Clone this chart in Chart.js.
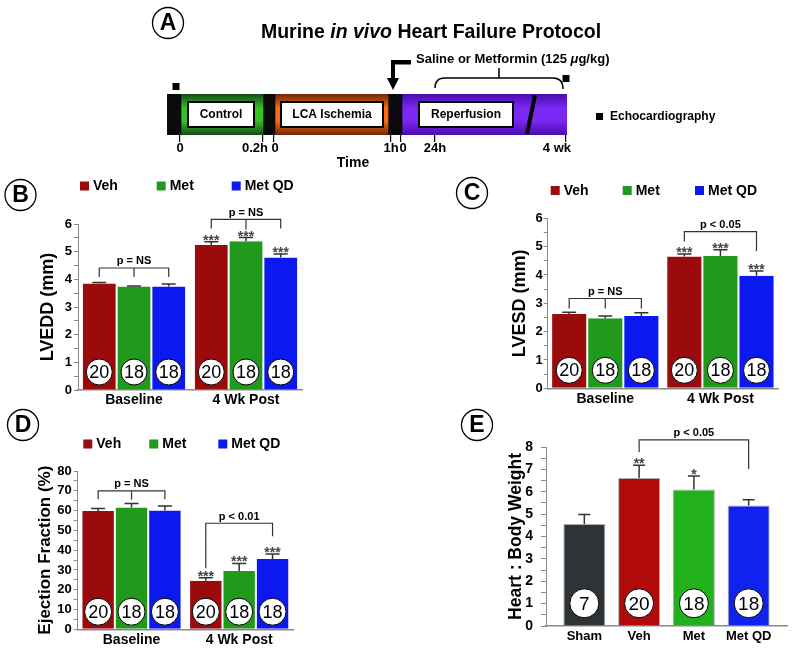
<!DOCTYPE html>
<html>
<head>
<meta charset="utf-8">
<script src="https://cdn.jsdelivr.net/npm/chart.js@4.4.1/dist/chart.umd.min.js"></script>
<style>
  body { margin: 0; background: #fff; }
  #figure { position: relative; width: 800px; height: 652px; overflow: hidden; }
  canvas { position: absolute; }
</style>
</head>
<body>
<div id="figure">
  <canvas id="panelA" width="800" height="170" style="left:0;top:0;width:800px;height:170px"></canvas>
  <canvas id="panelB" width="400" height="245" style="left:0;top:168px;width:400px;height:245px"></canvas>
  <canvas id="panelC" width="400" height="245" style="left:400px;top:168px;width:400px;height:245px"></canvas>
  <canvas id="panelD" width="400" height="252" style="left:0;top:400px;width:400px;height:252px"></canvas>
  <canvas id="panelE" width="400" height="252" style="left:400px;top:400px;width:400px;height:252px"></canvas>
</div>
<script>
const FONT = "'Liberation Sans', Arial, Helvetica, sans-serif";
Chart.defaults.font.family = FONT;
Chart.defaults.color = '#000';
Chart.defaults.animation = false;
Chart.defaults.events = [];
Chart.defaults.plugins.legend.display = false;
Chart.defaults.plugins.tooltip.enabled = false;

// ---- panel A: protocol timeline, in schematic units 0..400 ----
const stageSpans = [[0, 14], [14, 96], [96, 108], [108, 221], [221, 235], [235, 400]];
const stageKinds = ['black', 'green', 'black', 'orange', 'black', 'purple'];
const stageBoxes = [[21, 87, 'Control'], [114, 216, 'LCA Ischemia'], [252, 346, 'Reperfusion']];
const timeTicks = [13, 96, 107, 224, 234, 268, 399];
const timeTickLabels = ['0', '0.2h', '0', '1h', '0', '24h', '4 wk'];
const echoTimes = [9, 399];
const treatmentAt = 226;
const treatmentSpan = [268, 396];

// ---- panels B-D: groups x timepoints ----
const groups = ['Veh', 'Met', 'Met QD'];
const timepoints = ['Baseline', '4 Wk Post'];
const groupN = [20, 18, 18];
const changeStars = ['', '***'];

const lveddVeh = [3.85, 5.24];
const lveddMet = [3.74, 5.38];
const lveddMetQD = [3.74, 4.79];
const lveddErr = [[0.04, 0.12], [0.02, 0.13], [0.09, 0.13]];

const lvesdVeh = [2.62, 4.65];
const lvesdMet = [2.47, 4.67];
const lvesdMetQD = [2.55, 3.97];
const lvesdErr = [[0.06, 0.09], [0.08, 0.22], [0.12, 0.17]];

const efVeh = [59.8, 24.5];
const efMet = [61.6, 29.5];
const efMetQD = [60.1, 35.5];
const efErr = [[1.3, 1.6], [2.0, 3.8], [2.2, 2.5]];

// ---- panel E ----
const hwGroups = ['Sham', 'Veh', 'Met', 'Met QD'];
const hwRatio = [4.56, 6.61, 6.10, 5.38];
const hwErr = [0.42, 0.57, 0.60, 0.26];
const hwN = [7, 20, 18, 18];
const hwStars = ['', '**', '*', ''];

const groupColors = ['#9b0b0b', '#21991d', '#0c18f0'];
const hwColors = ['#2e3436', '#b10a0a', '#22b11c', '#0f22ee'];

function stageFill(chart, kind) {
  const area = chart.chartArea;
  const stops = {
    green: ['#17491a', '#36c227'],
    orange: ['#6e2806', '#ff6a14'],
    purple: ['#4a0cb0', '#7a28f2'],
  }[kind];
  if (!stops) return '#0b0b0b';
  if (!area) return stops[1];
  const g = chart.ctx.createLinearGradient(0, area.top, 0, area.bottom);
  g.addColorStop(0, stops[0]);
  g.addColorStop(0.35, stops[1]);
  g.addColorStop(0.65, stops[1]);
  g.addColorStop(1, stops[0]);
  return g;
}

function letterCircle(ctx, letter, x, y) {
  ctx.save();
  ctx.beginPath();
  ctx.arc(x, y, 15.5, 0, Math.PI * 2);
  ctx.fillStyle = '#fff';
  ctx.fill();
  ctx.lineWidth = 1.3;
  ctx.strokeStyle = '#000';
  ctx.stroke();
  ctx.fillStyle = '#000';
  ctx.font = `bold 23px ${FONT}`;
  ctx.textAlign = 'center';
  ctx.textBaseline = 'middle';
  ctx.fillText(letter, x, y + 1);
  ctx.restore();
}

const protocolOverlay = {
  id: 'protocolOverlay',
  afterDraw(chart) {
    const { ctx, chartArea: area, scales: { x } } = chart;
    const px = (v) => x.getPixelForValue(v);
    ctx.save();

    // break in the reperfusion period
    ctx.strokeStyle = '#000';
    ctx.lineWidth = 4;
    ctx.beginPath();
    ctx.moveTo(px(360), area.bottom - 1);
    ctx.lineTo(px(368), area.top + 1);
    ctx.stroke();

    // stage name boxes
    ctx.font = `bold 12px ${FONT}`;
    ctx.textAlign = 'center';
    ctx.textBaseline = 'middle';
    stageBoxes.forEach(([a, b, name]) => {
      const l = px(a), r = px(b), t = area.top + 8, h = area.height - 16;
      ctx.fillStyle = '#fff';
      ctx.fillRect(l, t, r - l, h);
      ctx.lineWidth = 2;
      ctx.strokeStyle = '#000';
      ctx.strokeRect(l, t, r - l, h);
      ctx.fillStyle = '#000';
      ctx.fillText(name, (l + r) / 2, t + h / 2 + 0.5);
    });

    // time tick labels
    const align = ['center', 'right', 'center', 'center', 'center', 'center', 'right'];
    const nudge = [0, 5, 1, 0, 2, 0, 5];
    ctx.font = `bold 13px ${FONT}`;
    timeTicks.forEach((v, i) => {
      ctx.textAlign = align[i];
      ctx.fillText(timeTickLabels[i], px(v) + nudge[i], area.bottom + 13);
    });
    ctx.font = `bold 14px ${FONT}`;
    ctx.textAlign = 'center';
    ctx.fillText('Time', 353, 163);

    // echocardiography markers
    ctx.fillStyle = '#000';
    ctx.fillRect(px(echoTimes[0]) - 3.5, area.top - 11, 7, 7);
    ctx.fillRect(px(echoTimes[1]) - 3.5, area.top - 19, 7, 7);
    ctx.fillRect(596, 113, 7, 7);
    ctx.font = `bold 12px ${FONT}`;
    ctx.textAlign = 'left';
    ctx.fillText('Echocardiography', 610, 117);

    // treatment arrow
    const ax = px(treatmentAt);
    ctx.fillRect(ax - 2, 60, 20, 4.5);
    ctx.fillRect(ax - 2, 60, 4, 20);
    ctx.beginPath();
    ctx.moveTo(ax - 6, 78);
    ctx.lineTo(ax + 6, 78);
    ctx.lineTo(ax, area.top - 4);
    ctx.closePath();
    ctx.fill();

    // treatment bracket
    const b0 = px(treatmentSpan[0]), b1 = px(treatmentSpan[1]), by = 78;
    ctx.lineWidth = 1.5;
    ctx.strokeStyle = '#000';
    ctx.beginPath();
    ctx.moveTo(b0, area.top - 6);
    ctx.quadraticCurveTo(b0, by, b0 + 10, by);
    ctx.lineTo(b1 - 10, by);
    ctx.quadraticCurveTo(b1, by, b1, area.top - 5);
    ctx.moveTo((b0 + b1) / 2, by);
    ctx.lineTo((b0 + b1) / 2, 68);
    ctx.stroke();

    // treatment text
    ctx.textBaseline = 'alphabetic';
    ctx.textAlign = 'left';
    let tx = 416;
    [['Saline or Metformin (125 ', 'bold'], ['\u03bc', 'italic bold'], ['g/kg)', 'bold']].forEach(([t, w]) => {
      ctx.font = `${w} 13px ${FONT}`;
      ctx.fillText(t, tx, 63);
      tx += ctx.measureText(t).width;
    });

    // title
    const parts = [['Murine ', 'bold'], ['in vivo', 'italic bold'], [' Heart Failure Protocol', 'bold']];
    let total = 0;
    parts.forEach(([t, w]) => { ctx.font = `${w} 19.5px ${FONT}`; total += ctx.measureText(t).width; });
    let cx = 431 - total / 2;
    parts.forEach(([t, w]) => {
      ctx.font = `${w} 19.5px ${FONT}`;
      ctx.fillText(t, cx, 38);
      cx += ctx.measureText(t).width;
    });
    ctx.restore();

    letterCircle(ctx, 'A', 168, 23);
  },
};

new Chart(document.getElementById('panelA'), {
  type: 'bar',
  data: {
    labels: ['Protocol'],
    datasets: stageSpans.map((span, i) => ({
      data: [span],
      backgroundColor: (c) => stageFill(c.chart, stageKinds[i]),
      grouped: false,
      barPercentage: 1,
      categoryPercentage: 1,
      borderWidth: 0,
    })),
  },
  options: {
    responsive: false,
    indexAxis: 'y',
    layout: { padding: { left: 167, right: 233, top: 94, bottom: 28 } },
    scales: {
      y: { display: false },
      x: {
        type: 'linear',
        min: 0,
        max: 400,
        offset: false,
        afterBuildTicks: (s) => { s.ticks = timeTicks.map((v) => ({ value: v })); },
        afterFit: (s) => { s.height = 7; },
        grid: { drawOnChartArea: false, tickLength: 7, color: '#000', lineWidth: 1.2, offset: false },
        border: { display: false },
        ticks: { display: false },
      },
    },
  },
  plugins: [protocolOverlay],
});

function overlay(p) {
  return {
    id: 'panelOverlay',
    afterDatasetsDraw(chart) {
      const { ctx, chartArea: area, scales: { y } } = chart;
      ctx.save();
      chart.data.datasets.forEach((ds, di) => {
        chart.getDatasetMeta(di).data.forEach((bar, i) => {
          const top = y.getPixelForValue(p.values[di][i] + p.errors[di][i]);
          ctx.strokeStyle = '#333';
          ctx.lineWidth = 1.5;
          ctx.beginPath();
          ctx.moveTo(bar.x, bar.y);
          ctx.lineTo(bar.x, top);
          ctx.moveTo(bar.x - p.cap, top);
          ctx.lineTo(bar.x + p.cap, top);
          ctx.stroke();

          const s = p.stars[di][i];
          if (s) {
            ctx.fillStyle = '#444';
            ctx.font = `bold 14px ${FONT}`;
            ctx.textAlign = 'center';
            ctx.textBaseline = 'alphabetic';
            ctx.fillText(s, bar.x, top + 3);
          }

          const cy = area.bottom - p.nOffset;
          ctx.beginPath();
          ctx.arc(bar.x, cy, p.nRadius, 0, Math.PI * 2);
          ctx.fillStyle = '#fff';
          ctx.fill();
          ctx.lineWidth = 1;
          ctx.strokeStyle = '#000';
          ctx.stroke();
          ctx.fillStyle = '#000';
          ctx.font = `${p.nFont}px ${FONT}`;
          ctx.textAlign = 'center';
          ctx.textBaseline = 'middle';
          ctx.fillText(String(p.counts[di][i]), bar.x, cy + 1);
        });
      });

      p.brackets.forEach((b) => {
        const xa = chart.getDatasetMeta(b.a[0]).data[b.a[1]].x;
        const xb = chart.getDatasetMeta(b.b[0]).data[b.b[1]].x;
        const yl = y.getPixelForValue(b.y);
        ctx.strokeStyle = '#333';
        ctx.lineWidth = 1.2;
        ctx.beginPath();
        ctx.moveTo(xa, y.getPixelForValue(b.ends[0]));
        ctx.lineTo(xa, yl);
        ctx.lineTo(xb, yl);
        ctx.lineTo(xb, y.getPixelForValue(b.ends[1]));
        if (b.mid != null) {
          ctx.moveTo((xa + xb) / 2, yl);
          ctx.lineTo((xa + xb) / 2, y.getPixelForValue(b.mid));
        }
        ctx.stroke();
        ctx.fillStyle = '#000';
        ctx.font = `bold 11px ${FONT}`;
        ctx.textAlign = 'center';
        ctx.textBaseline = 'alphabetic';
        ctx.fillText(b.text, (xa + xb) / 2, yl - 3.5);
      });
      ctx.restore();
    },
    afterDraw(chart) {
      const { ctx } = chart;
      letterCircle(ctx, p.letter, p.letterAt[0], p.letterAt[1]);
      if (!p.legendXs) return;
      ctx.save();
      chart.data.datasets.forEach((ds, i) => {
        const x = p.legendXs[i];
        ctx.fillStyle = ds.backgroundColor;
        ctx.fillRect(x, p.legendY - 4.5, 9, 9);
        ctx.fillStyle = '#000';
        ctx.font = `bold 14px ${FONT}`;
        ctx.textAlign = 'left';
        ctx.textBaseline = 'middle';
        ctx.fillText(ds.label, x + 13, p.legendY + 0.5);
      });
      ctx.restore();
    },
  };
}

function makeBarPanel(id, p) {
  const canvas = document.getElementById(id);
  const W = canvas.width, H = canvas.height;
  const xBase = {
    grid: { display: false, drawTicks: false },
    border: { color: '#8a8a8a', width: 1.5 },
    afterFit: (s) => { s.height = H - p.plot.bottom; },
  };
  const xScale = p.linearX
    ? {
        ...xBase,
        type: 'linear',
        min: -0.7,
        max: p.labels.length - 0.3,
        offset: false,
        afterBuildTicks: (s) => { s.ticks = p.labels.map((_, i) => ({ value: i })); },
        ticks: { callback: (v) => p.labels[v], font: { size: 13, weight: 'bold' }, padding: 3, autoSkip: false, maxRotation: 0 },
      }
    : {
        ...xBase,
        ticks: { font: { size: 14, weight: 'bold' }, padding: 2, autoSkip: false, maxRotation: 0 },
      };
  return new Chart(canvas, {
    type: 'bar',
    data: { labels: p.labels, datasets: p.datasets },
    options: {
      responsive: false,
      layout: { padding: { left: 0, right: W - p.plot.right, top: p.plot.top, bottom: 0 } },
      scales: {
        x: xScale,
        y: {
          min: 0,
          max: p.yMax,
          afterFit: (s) => { s.width = p.plot.left; },
          ticks: {
            stepSize: p.yStep,
            autoSkip: false,
            callback: (v) => (Math.abs(v % p.yLabelEvery) < 1e-6 ? v : ''),
            font: { size: p.tickSize, weight: 'bold' },
            padding: p.tickPad,
          },
          grid: { drawOnChartArea: false, tickLength: p.tickLen, color: '#8a8a8a' },
          border: { color: '#8a8a8a', width: 1 },
          title: {
            display: true,
            text: p.yTitle,
            font: { size: p.titleSize, weight: 'bold' },
            padding: { top: p.titleX - p.titleSize * 0.6, bottom: 0 },
          },
        },
      },
    },
    plugins: [overlay(p)],
  });
}

function groupedSets(values, catPct) {
  return groups.map((g, i) => ({
    label: g,
    data: values[i],
    backgroundColor: groupColors[i],
    borderColor: 'rgba(255,255,255,0.7)',
    borderWidth: { left: 1, right: 1, top: 0, bottom: 0 },
    categoryPercentage: catPct,
    barPercentage: 1,
  }));
}

const groupCounts = groupN.map((n) => [n, n]);
const groupStars = groups.map(() => changeStars);

const lveddValues = [lveddVeh, lveddMet, lveddMetQD];
makeBarPanel('panelB', {
  labels: timepoints, datasets: groupedSets(lveddValues, 0.93),
  values: lveddValues, errors: lveddErr, stars: groupStars, counts: groupCounts,
  plot: { left: 78, right: 302, top: 56, bottom: 222 },
  yMax: 6, yStep: 0.5, yLabelEvery: 1, tickSize: 13, tickPad: 2, tickLen: 4,
  yTitle: 'LVEDD (mm)', titleSize: 18, titleX: 48,
  cap: 7, nOffset: 18, nRadius: 13, nFont: 18,
  letter: 'B', letterAt: [20.5, 27], legendXs: [80, 156.7, 231.7], legendY: 18,
  brackets: [
    { a: [0, 0], b: [2, 0], y: 4.41, ends: [4.08, 4.08], mid: 4.08, text: 'p = NS' },
    { a: [0, 1], b: [2, 1], y: 6.17, ends: [5.84, 5.84], mid: 5.80, text: 'p = NS' },
  ],
});

const lvesdValues = [lvesdVeh, lvesdMet, lvesdMetQD];
makeBarPanel('panelC', {
  labels: timepoints, datasets: groupedSets(lvesdValues, 0.94),
  values: lvesdValues, errors: lvesdErr, stars: groupStars, counts: groupCounts,
  plot: { left: 147.7, right: 378, top: 50.3, bottom: 220.3 },
  yMax: 6, yStep: 0.5, yLabelEvery: 1, tickSize: 13, tickPad: 1, tickLen: 4,
  yTitle: 'LVESD (mm)', titleSize: 18, titleX: 120,
  cap: 7, nOffset: 18, nRadius: 13, nFont: 18,
  letter: 'C', letterAt: [72, 25], legendXs: [150.7, 222.7, 295], legendY: 22.5,
  brackets: [
    { a: [0, 0], b: [2, 0], y: 3.17, ends: [2.82, 2.82], mid: 2.82, text: 'p = NS' },
    { a: [0, 1], b: [2, 1], y: 5.53, ends: [5.18, 4.85], mid: null, text: 'p < 0.05' },
  ],
});

const efValues = [efVeh, efMet, efMetQD];
makeBarPanel('panelD', {
  labels: timepoints, datasets: groupedSets(efValues, 0.93),
  values: efValues, errors: efErr, stars: groupStars, counts: groupCounts,
  plot: { left: 77.7, right: 293, top: 71, bottom: 229.3 },
  yMax: 80, yStep: 5, yLabelEvery: 10, tickSize: 13, tickPad: 2, tickLen: 4,
  yTitle: 'Ejection Fraction (%)', titleSize: 17, titleX: 45,
  cap: 7, nOffset: 17.6, nRadius: 13.5, nFont: 18,
  letter: 'D', letterAt: [23, 25], legendXs: [83.3, 149.3, 218.3], legendY: 44,
  brackets: [
    { a: [0, 0], b: [2, 0], y: 70.0, ends: [65.7, 65.7], mid: 65.5, text: 'p = NS' },
    { a: [0, 1], b: [2, 1], y: 53.6, ends: [30.8, 47.0], mid: null, text: 'p < 0.01' },
  ],
});

makeBarPanel('panelE', {
  labels: hwGroups,
  datasets: [{
    label: 'Heart : Body Weight',
    data: hwRatio.map((v, i) => ({ x: i, y: v })),
    backgroundColor: hwColors,
    borderColor: 'rgba(120,120,120,0.6)',
    borderWidth: 1,
    categoryPercentage: 1,
    barPercentage: 0.766,
  }],
  linearX: true,
  values: [hwRatio], errors: [hwErr], stars: [hwStars], counts: [hwN],
  plot: { left: 146, right: 387, top: 47, bottom: 226 },
  yMax: 8, yStep: 0.5, yLabelEvery: 1, tickSize: 14, tickPad: 8, tickLen: 5,
  yTitle: 'Heart : Body Weight', titleSize: 17.5, titleX: 116,
  cap: 6, nOffset: 22.7, nRadius: 14.5, nFont: 19,
  letter: 'E', letterAt: [77, 25], legendXs: null,
  brackets: [
    { a: [0, 1], b: [0, 3], y: 8.32, ends: [7.77, 7.02], mid: null, text: 'p < 0.05' },
  ],
});
</script>
</body>
</html>
